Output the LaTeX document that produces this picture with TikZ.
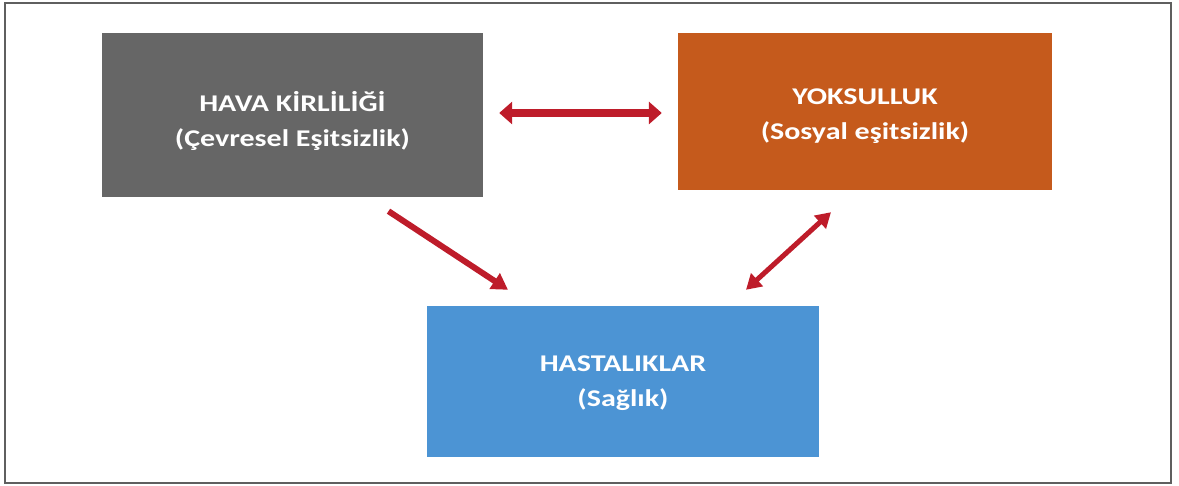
\documentclass[tikz,border=0pt]{standalone}
\usepackage{fontspec}
\setmainfont{Carlito}
\newfontfamily\boxfont[FakeStretch=1.25]{Carlito}
\usetikzlibrary{arrows.meta,calc}
\definecolor{boxgray}{RGB}{102,102,102}
\definecolor{boxorange}{RGB}{197,90,28}
\definecolor{boxblue}{RGB}{76,148,212}
\definecolor{arrred}{RGB}{190,28,42}
\definecolor{framegray}{RGB}{95,95,95}
\tikzset{
  box/.style={rectangle, inner sep=0pt},
  boxtext/.style={inner sep=0pt, align=center, text=white,
    font=\boxfont\bfseries\fontsize{24}{35}\selectfont},
  redarrow/.style={draw=arrred, line width=#1},
}
\begin{document}
\begin{tikzpicture}[x=1pt,y=-1pt]
\useasboundingbox (0,0) rectangle (1179,486);
\draw[framegray, line width=2pt] (5,3) rectangle (1171,483);
\node[box, fill=boxgray, minimum width=381pt, minimum height=164pt] (gray) at (292.5,115) {};
\node[box, fill=boxorange, minimum width=374pt, minimum height=157pt] (orange) at (865,111.5) {};
\node[box, fill=boxblue, minimum width=392pt, minimum height=151pt] (blue) at (623,381.5) {};
\node[boxtext] (graytext) at ($(gray.center)+(0,6)$) {HAVA KİRLİLİĞİ\\(Çevresel Eşitsizlik)};
\node[boxtext] (orangetext) at ($(orange.center)+(0,5)$) {YOKSULLUK\\(Sosyal eşitsizlik)};
\node[boxtext] (bluetext) at ($(blue.center)+(0,2)$) {HASTALIKLAR\\(Sağlık)};
\draw[redarrow=8pt, {Triangle[length=13pt,width=22pt]}-{Triangle[length=13pt,width=22pt]}, shorten <=16pt, shorten >=16pt]
  ($(gray.east)+(0,-2)$) -- ($(gray.east -| orange.west)+(0,-2)$);
\draw[redarrow=6pt, -{Triangle[length=16pt,width=18pt]}]
  ($(gray.south)+(96,14)$) -- ($(blue.north)+(-115,-16)$);
\draw[redarrow=5pt, {Triangle[length=15pt,width=17pt]}-{Triangle[length=15pt,width=17pt]}]
  ($(blue.north)+(123,-16)$) -- ($(orange.south)+(-34,22)$);
\end{tikzpicture}
\end{document}
